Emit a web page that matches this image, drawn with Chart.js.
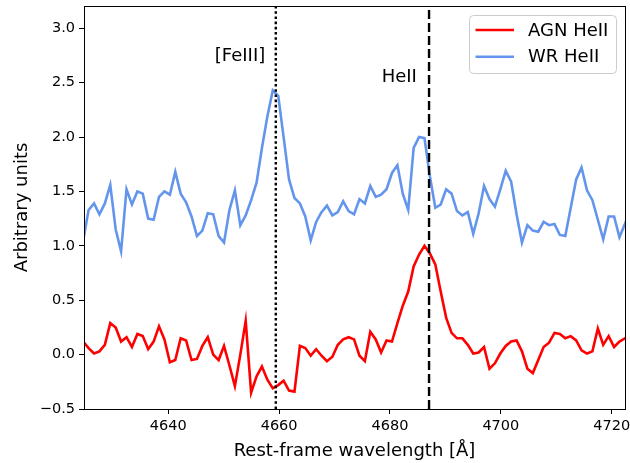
<!DOCTYPE html>
<html>
<head>
<meta charset="utf-8">
<script src="https://cdn.jsdelivr.net/npm/chart.js@4/dist/chart.umd.min.js"></script>
<style>
  html, body { margin: 0; padding: 0; background: #fff; }
  #wrap { width: 630px; height: 463px; }
</style>
</head>
<body>
<div id="wrap"><canvas id="spectrum" width="630" height="463"></canvas></div>
<script>
// rest-frame wavelength grid (Angstrom), same for both spectra
var wavelength = [
  4624.65, 4625.63, 4626.61, 4627.58, 4628.56, 4629.54, 4630.52, 4631.49, 4632.47, 4633.45,
  4634.43, 4635.40, 4636.38, 4637.36, 4638.33, 4639.31, 4640.29, 4641.27, 4642.24, 4643.22,
  4644.20, 4645.18, 4646.15, 4647.13, 4648.11, 4649.09, 4650.06, 4651.04, 4652.02, 4653.00,
  4653.97, 4654.95, 4655.93, 4656.90, 4657.88, 4658.86, 4659.84, 4660.81, 4661.79, 4662.77,
  4663.75, 4664.72, 4665.70, 4666.68, 4667.65, 4668.63, 4669.61, 4670.59, 4671.56, 4672.54,
  4673.52, 4674.50, 4675.47, 4676.45, 4677.43, 4678.40, 4679.38, 4680.36, 4681.34, 4682.31,
  4683.29, 4684.27, 4685.25, 4686.22, 4687.20, 4688.18, 4689.15, 4690.13, 4691.11, 4692.09,
  4693.06, 4694.04, 4695.02, 4696.00, 4696.97, 4697.95, 4698.93, 4699.90, 4700.88, 4701.86,
  4702.84, 4703.81, 4704.79, 4705.77, 4706.75, 4707.72, 4708.70, 4709.68, 4710.65, 4711.63,
  4712.61, 4713.59, 4714.56, 4715.54, 4716.52, 4717.50, 4718.47, 4719.45, 4720.43, 4721.40,
  4722.38, 4723.36
];
var agnHeII = [
  0.12, 0.06, 0.01, 0.03, 0.09, 0.29, 0.25, 0.12, 0.16, 0.07,
  0.19, 0.17, 0.05, 0.12, 0.26, 0.14, -0.07, -0.05, 0.15, 0.13,
  -0.05, -0.04, 0.08, 0.16, 0.00, -0.05, 0.08, -0.10, -0.29, 0.00,
  0.31, -0.35, -0.20, -0.11, -0.23, -0.31, -0.28, -0.24, -0.33, -0.34,
  0.08, 0.06, -0.01, 0.05, -0.01, -0.06, -0.02, 0.09, 0.14, 0.16,
  0.14, -0.01, -0.06, 0.21, 0.14, 0.02, 0.13, 0.12, 0.29, 0.45,
  0.58, 0.81, 0.92, 1.00, 0.93, 0.83, 0.58, 0.34, 0.20, 0.15,
  0.15, 0.09, 0.01, 0.02, 0.07, -0.13, -0.08, 0.01, 0.08, 0.12,
  0.13, 0.03, -0.13, -0.17, -0.05, 0.07, 0.11, 0.20, 0.19, 0.15,
  0.17, 0.13, 0.04, 0.01, 0.03, 0.24, 0.09, 0.17, 0.07, 0.12,
  0.15, 0.17
];
var wrHeII = [
  1.05, 1.33, 1.39, 1.29, 1.39, 1.56, 1.15, 0.95, 1.52, 1.38,
  1.50, 1.48, 1.25, 1.24, 1.45, 1.50, 1.47, 1.68, 1.48, 1.40,
  1.27, 1.09, 1.14, 1.30, 1.29, 1.09, 1.03, 1.33, 1.51, 1.19,
  1.28, 1.42, 1.58, 1.90, 2.19, 2.43, 2.38, 2.00, 1.61, 1.44,
  1.39, 1.27, 1.05, 1.22, 1.31, 1.37, 1.28, 1.31, 1.41, 1.32,
  1.29, 1.43, 1.39, 1.55, 1.45, 1.47, 1.52, 1.67, 1.74, 1.48,
  1.33, 1.90, 2.00, 1.99, 1.64, 1.35, 1.38, 1.52, 1.48, 1.32,
  1.28, 1.31, 1.11, 1.30, 1.55, 1.43, 1.36, 1.52, 1.69, 1.59,
  1.29, 1.03, 1.19, 1.14, 1.13, 1.22, 1.19, 1.20, 1.10, 1.09,
  1.35, 1.61, 1.72, 1.51, 1.42, 1.24, 1.06, 1.27, 1.27, 1.08,
  1.20, 1.33
];
var seriesNames = ['AGN HeII', 'WR HeII'];
var seriesColors = ['#ff0000', '#6495ed'];

// marker lines: [FeIII] (dotted) and HeII (dashed)
var lineWave = [4659.4, 4687.05];
var lineDash = [[2.6, 2.6], [9, 4]];
var labelText = ['[FeIII]', 'HeII'];
var labelWave = [4648.4, 4678.5];
var labelLevel = [2.70, 2.51];

var xTicks = [4640, 4660, 4680, 4700, 4720];
var yTicks = [-0.5, 0, 0.5, 1, 1.5, 2, 2.5, 3];
var xRange = [4624.8, 4722.4];
var yRange = [-0.5, 3.205];

Chart.defaults.font.family = 'DejaVu Sans';
Chart.defaults.color = '#000';

var toPoints = function(values) {
  return values.map(function(v, i) { return {x: wavelength[i], y: v}; });
};

var datasets = [];
for (var i = 0; i < lineWave.length; i++) {
  datasets.push({
    label: 'marker' + i,
    data: [{x: lineWave[i], y: yRange[0]}, {x: lineWave[i], y: yRange[1]}],
    borderColor: '#000',
    borderWidth: 2.4,
    borderDash: lineDash[i],
    pointRadius: 0,
    order: 0
  });
}
datasets.push({label: seriesNames[1], data: toPoints(wrHeII), borderColor: seriesColors[1], order: 1});
datasets.push({label: seriesNames[0], data: toPoints(agnHeII), borderColor: seriesColors[0], order: 2});
datasets.forEach(function(d) {
  d.fill = false;
  d.tension = 0;
  d.pointRadius = 0;
  d.clip = 0;
  if (!d.borderWidth) d.borderWidth = 2.6;
});

var frameAndText = {
  id: 'frameAndText',
  afterDatasetsDraw: function(chart) {
    var ctx = chart.ctx, a = chart.chartArea;
    var xs = chart.scales.x, ys = chart.scales.y;
    ctx.save();
    // spines
    ctx.strokeStyle = '#000';
    ctx.lineWidth = 1;
    ctx.strokeRect(a.left + 0.5, a.top + 0.5, a.width, a.height);

    // line labels
    ctx.fillStyle = '#000';
    ctx.font = '18px "DejaVu Sans"';
    ctx.textAlign = 'left';
    ctx.textBaseline = 'alphabetic';
    for (var i = 0; i < labelText.length; i++) {
      ctx.fillText(labelText[i], xs.getPixelForValue(labelWave[i]), ys.getPixelForValue(labelLevel[i]));
    }

    // legend, upper right
    var bw = 147, bh = 58;
    var bx = a.right - 9 - bw, by = a.top + 9;
    ctx.beginPath();
    ctx.roundRect(bx + 0.5, by + 0.5, bw, bh, 4);
    ctx.fillStyle = 'rgba(255,255,255,0.8)';
    ctx.fill();
    ctx.strokeStyle = '#cccccc';
    ctx.lineWidth = 1;
    ctx.stroke();
    ctx.textBaseline = 'middle';
    for (var j = 0; j < seriesNames.length; j++) {
      var ry = by + 15 + j * 26.7;
      ctx.beginPath();
      ctx.moveTo(bx + 6.5, ry);
      ctx.lineTo(bx + 45, ry);
      ctx.strokeStyle = seriesColors[j];
      ctx.lineWidth = 2.6;
      ctx.stroke();
      ctx.fillStyle = '#000';
      ctx.fillText(seriesNames[j], bx + 59, ry + 1);
    }
    ctx.restore();
  }
};

var tickStyle = {display: true, drawOnChartArea: false, drawTicks: true, tickLength: 5, color: '#000', lineWidth: 1};

new Chart(document.getElementById('spectrum'), {
  type: 'line',
  data: {datasets: datasets},
  options: {
    responsive: false,
    devicePixelRatio: 1,
    animation: false,
    layout: {padding: {left: 0, right: 5, top: 6, bottom: 0}},
    plugins: {legend: {display: false}, tooltip: {enabled: false}},
    scales: {
      x: {
        type: 'linear',
        min: xRange[0],
        max: xRange[1],
        grid: tickStyle,
        border: {display: false},
        ticks: {
          font: {size: 14.5},
          padding: 4,
          maxRotation: 0,
          callback: function(v) { return String(v); }
        },
        afterBuildTicks: function(scale) {
          scale.ticks = xTicks.map(function(v) { return {value: v}; });
        },
        afterFit: function(scale) {
          scale.height = 54;
          scale.paddingLeft = 0;
          scale.paddingRight = 0;
        },
        title: {display: true, text: 'Rest-frame wavelength [\u00c5]', font: {size: 18}, padding: {top: 0, bottom: 1}}
      },
      y: {
        type: 'linear',
        min: yRange[0],
        max: yRange[1],
        grid: tickStyle,
        border: {display: false},
        ticks: {
          font: {size: 14.5},
          padding: 4,
          callback: function(v) { return (v < 0 ? '\u2212' : '') + Math.abs(v).toFixed(1); }
        },
        afterBuildTicks: function(scale) {
          scale.ticks = yTicks.map(function(v) { return {value: v}; });
        },
        afterFit: function(scale) {
          scale.width = 84;
          scale.paddingTop = 0;
          scale.paddingBottom = 0;
        },
        title: {display: true, text: 'Arbitrary units', font: {size: 18}, padding: {top: 12, bottom: 0}}
      }
    }
  },
  plugins: [frameAndText]
});
</script>
</body>
</html>
